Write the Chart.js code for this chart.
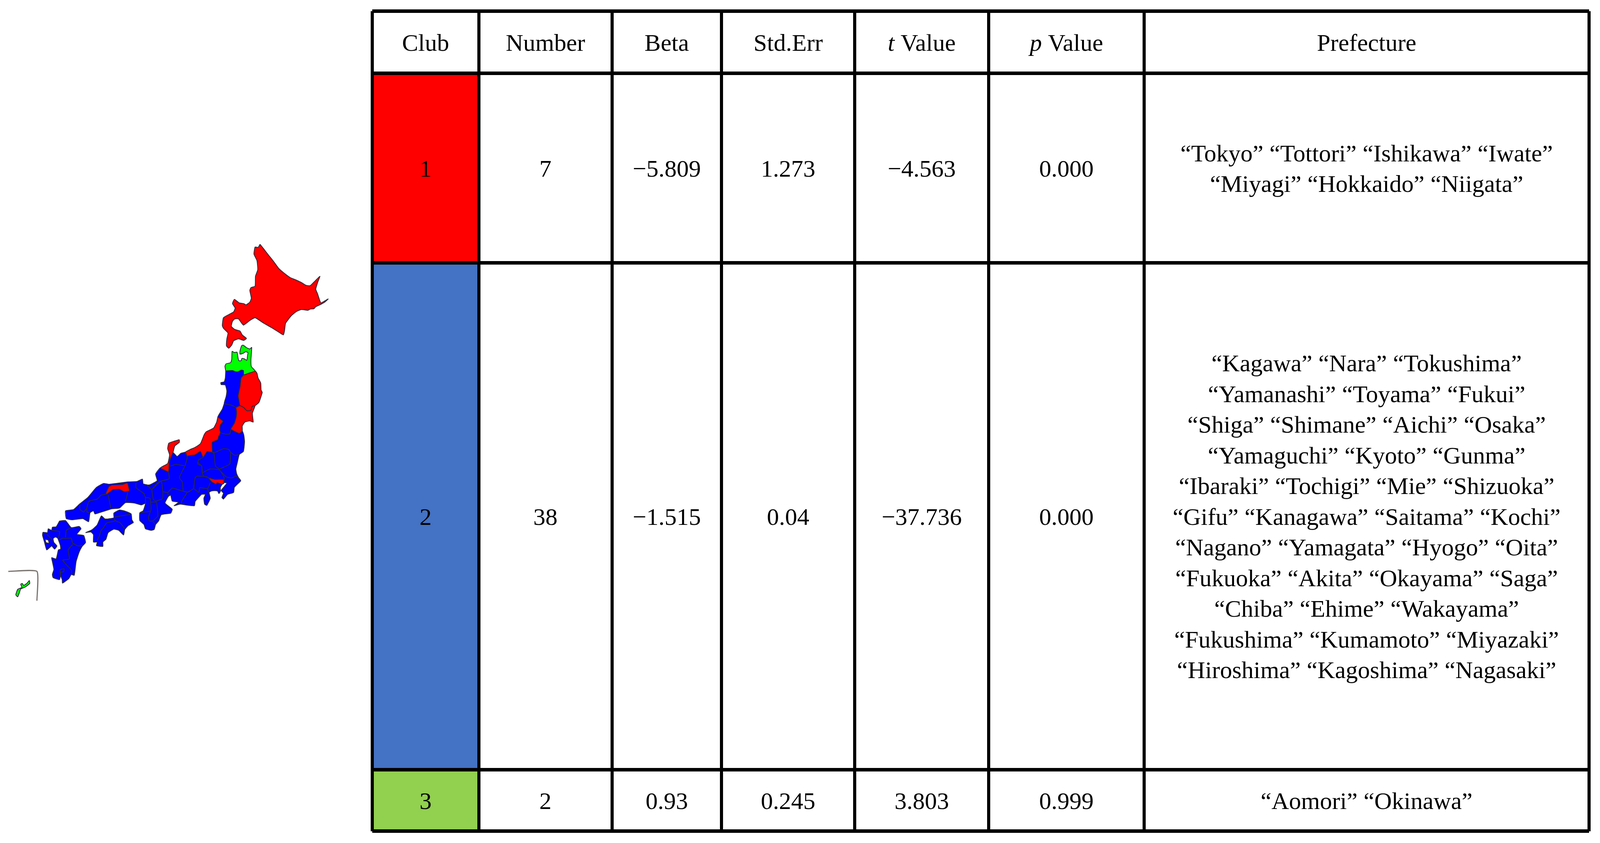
<!DOCTYPE html>
<html>
<head>
<meta charset="utf-8">
<title>Club table and map</title>
<script src="https://cdn.jsdelivr.net/npm/chart.js@4"></script>
<style>
html, body { margin: 0; padding: 0; background: #fff; overflow: hidden; }
canvas { position: absolute; top: 0; }
#mapChart { left: 0; filter: blur(0.6px); }
</style>
</head>
<body>
<canvas id="mapChart"></canvas>
<canvas id="tableChart"></canvas>
<script>
// --- Table values ---
const headers = ['Club', 'Number', 'Beta', 'Std.Err', 't Value', 'p Value', 'Prefecture'];
const clubs = ['1', '2', '3'];
const numbers = ['7', '38', '2'];
const betas = ['−5.809', '−1.515', '0.93'];
const stdErrs = ['1.273', '0.04', '0.245'];
const tValues = ['−4.563', '−37.736', '3.803'];
const pValues = ['0.000', '0.000', '0.999'];
const prefectures1 = ['“Tokyo” “Tottori” “Ishikawa” “Iwate”', '“Miyagi” “Hokkaido” “Niigata”'];
const prefectures2 = [
    '“Kagawa” “Nara” “Tokushima”',
    '“Yamanashi” “Toyama” “Fukui”',
    '“Shiga” “Shimane” “Aichi” “Osaka”',
    '“Yamaguchi” “Kyoto” “Gunma”',
    '“Ibaraki” “Tochigi” “Mie” “Shizuoka”',
    '“Gifu” “Kanagawa” “Saitama” “Kochi”',
    '“Nagano” “Yamagata” “Hyogo” “Oita”',
    '“Fukuoka” “Akita” “Okayama” “Saga”',
    '“Chiba” “Ehime” “Wakayama”',
    '“Fukushima” “Kumamoto” “Miyazaki”',
    '“Hiroshima” “Kagoshima” “Nagasaki”'
];
const prefectures3 = ['“Aomori” “Okinawa”'];

// --- Map outlines ---
const hokkaido = [[690,625],[700,637],[713,653],[727,670],[740,687],[753,698],[770,710],[787,717],[800,723],[812,730],[823,731],[833,722],[849,707],[843,723],[838,740],[843,752],[848,767],[852,775],[862,770],[871,765],[862,773],[853,778],[838,785],[833,790],[823,791],[817,794],[800,792],[787,797],[773,808],[758,827],[755,847],[752,857],[740,850],[720,838],[700,827],[677,813],[663,820],[646,832],[633,816],[623,816],[617,822],[614,835],[623,843],[637,847],[643,857],[654,866],[647,871],[633,867],[620,872],[615,883],[607,891],[601,885],[602,867],[605,852],[593,840],[590,833],[593,813],[607,805],[620,798],[624,788],[617,777],[622,766],[635,775],[647,777],[653,780],[663,773],[667,763],[663,743],[666,736],[677,732],[678,707],[684,690],[682,667],[674,650],[677,632],[685,633]];
const aomori = [[599,949],[597,937],[600,931],[612,928],[615,920],[616,899],[622,902],[629,901],[632,917],[634,923],[640,923],[642,917],[648,918],[655,922],[657,910],[658,902],[652,900],[645,904],[637,906],[637,898],[641,885],[645,883],[655,890],[663,893],[668,889],[666,920],[667,938],[677,949],[660,955],[647,959],[646,948],[640,947],[632,951],[625,951],[617,948]];
const iwate = [[647,959],[677,949],[682,955],[685,967],[692,980],[693,998],[696,1004],[692,1017],[687,1030],[677,1038],[669,1040],[666,1050],[655,1051],[647,1043],[637,1038],[634,1023],[632,1013],[637,990],[640,967]];
const akita = [[599,949],[617,948],[625,951],[632,951],[640,947],[646,948],[647,959],[640,967],[637,990],[632,1013],[634,1023],[637,1038],[626,1043],[615,1037],[595,1033],[600,1015],[602,1000],[598,985],[587,984],[586,979],[595,977],[598,967]];
const miyagi = [[626,1043],[637,1038],[647,1043],[655,1051],[666,1050],[669,1040],[677,1038],[670,1057],[671,1070],[672,1080],[663,1077],[650,1080],[643,1090],[643,1103],[635,1109],[613,1098],[622,1083],[627,1067],[628,1053]];
const yamagata = [[595,1033],[615,1037],[626,1043],[628,1053],[627,1067],[622,1083],[613,1098],[610,1110],[600,1111],[585,1107],[583,1098],[585,1087],[592,1078],[578,1067],[590,1047]];
const niigata = [[578,1067],[592,1078],[585,1087],[583,1098],[585,1107],[580,1117],[578,1125],[563,1132],[563,1157],[550,1155],[539,1170],[532,1155],[517,1164],[505,1165],[496,1167],[492,1157],[505,1150],[517,1145],[532,1135],[542,1112],[547,1105],[567,1095],[575,1080]];
const ishikawa = [[476,1125],[462,1129],[448,1134],[445,1148],[450,1164],[445,1186],[426,1197],[447,1207],[449,1183],[452,1173],[459,1158],[464,1141],[476,1132]];
const tottori = [[289,1245],[298,1241],[325,1240],[338,1236],[343,1256],[329,1258],[317,1252],[300,1253],[283,1265],[281,1262]];
const tokyo = [[553,1222],[570,1227],[593,1227],[594,1237],[589,1239],[576,1235],[574,1239],[562,1233]];
const honshuRest = [[585,1107],[600,1111],[610,1110],[613,1098],[635,1109],[643,1103],[647,1113],[649,1130],[646,1155],[635,1163],[630,1183],[626,1200],[628,1212],[633,1222],[639,1230],[622,1247],[620,1260],[604,1265],[593,1277],[589,1273],[593,1262],[587,1255],[595,1245],[602,1236],[593,1235],[585,1247],[585,1257],[581,1263],[577,1256],[562,1256],[555,1260],[558,1275],[549,1293],[543,1290],[541,1275],[545,1265],[535,1265],[518,1283],[516,1294],[493,1292],[478,1290],[462,1294],[474,1285],[457,1282],[453,1267],[447,1270],[438,1287],[457,1303],[453,1313],[428,1317],[421,1333],[413,1342],[409,1355],[401,1357],[386,1353],[382,1342],[371,1332],[371,1312],[380,1307],[386,1288],[375,1292],[356,1287],[333,1286],[317,1300],[296,1302],[260,1313],[252,1315],[248,1307],[239,1312],[235,1335],[220,1327],[191,1330],[176,1327],[174,1307],[195,1304],[212,1289],[233,1273],[256,1247],[275,1237],[289,1239],[340,1233],[363,1232],[378,1226],[380,1238],[396,1241],[417,1230],[413,1213],[426,1197],[447,1207],[449,1183],[459,1158],[470,1168],[480,1160],[493,1157],[517,1164],[532,1155],[539,1170],[550,1155],[563,1157],[563,1132],[578,1125],[580,1117]];
const shikoku = [[227,1363],[245,1355],[258,1343],[269,1320],[279,1328],[302,1325],[302,1313],[317,1305],[329,1307],[348,1315],[350,1330],[354,1337],[340,1345],[331,1355],[328,1369],[315,1357],[302,1354],[287,1363],[281,1380],[273,1387],[273,1398],[256,1396],[258,1387],[248,1387],[248,1368],[241,1361]];
const kyushu = [[158,1333],[174,1332],[189,1350],[210,1347],[215,1353],[204,1367],[222,1370],[227,1388],[218,1398],[210,1413],[202,1437],[197,1472],[189,1470],[183,1480],[166,1492],[165,1483],[160,1470],[160,1458],[170,1455],[169,1463],[162,1464],[158,1483],[141,1478],[139,1470],[143,1457],[139,1437],[137,1427],[149,1430],[155,1407],[161,1405],[160,1395],[153,1377],[147,1374],[141,1378],[143,1388],[151,1397],[145,1405],[137,1397],[124,1407],[118,1387],[113,1370],[114,1362],[126,1363],[128,1353],[137,1357],[139,1349],[149,1348]];
const omuraBay = [[120,1380],[128,1382],[130,1390],[122,1388]];
const okinawa = [[78,1485],[79,1493],[67,1502],[55,1507],[52,1515],[47,1527],[42,1522],[47,1508],[58,1503],[55,1495],[59,1493],[63,1498],[72,1492]];
const insetFrame = [[22,1462],[98,1462],[98,1537]];
const borderLines = [
    [[281,1265],[268,1267],[258,1277],[237,1282],[231,1297],[231,1310],[239,1313]],
    [[212,1290],[212,1303],[222,1310],[231,1300]],
    [[287,1267],[294,1300]],
    [[340,1257],[333,1283]],
    [[361,1235],[361,1248],[382,1263],[386,1273],[386,1287]],
    [[386,1273],[398,1275],[400,1307],[371,1312]],
    [[403,1253],[407,1278],[415,1283]],
    [[400,1285],[415,1285],[417,1297],[419,1320],[405,1333],[396,1333],[394,1323],[400,1307]],
    [[405,1333],[413,1343]],
    [[403,1253],[428,1232],[432,1275],[415,1282]],
    [[388,1240],[403,1252],[417,1237],[426,1231]],
    [[426,1231],[449,1225],[447,1207]],
    [[432,1258],[445,1260],[457,1249],[486,1257]],
    [[445,1260],[447,1268]],
    [[486,1257],[484,1233],[476,1222],[491,1192]],
    [[451,1193],[467,1188],[489,1192]],
    [[491,1192],[497,1170],[493,1158]],
    [[497,1260],[482,1283],[482,1290]],
    [[486,1257],[499,1259],[514,1250]],
    [[514,1250],[528,1260],[530,1248],[551,1250],[558,1235]],
    [[551,1250],[555,1265]],
    [[514,1250],[518,1222],[524,1218],[551,1220]],
    [[524,1183],[535,1192],[537,1212]],
    [[563,1157],[570,1158],[593,1148],[607,1150],[612,1157],[623,1165],[635,1163]],
    [[563,1157],[568,1160],[570,1180],[572,1193],[582,1200]],
    [[612,1157],[610,1187],[583,1200]],
    [[540,1170],[527,1177],[525,1188],[535,1192],[537,1210]],
    [[537,1210],[557,1200],[582,1202],[590,1213],[595,1223],[594,1237]],
    [[587,1207],[600,1220],[615,1223],[627,1218],[637,1228]],
    [[537,1210],[540,1218],[553,1222]],
    [[302,1325],[306,1332],[319,1338],[331,1353]],
    [[304,1323],[346,1316]],
    [[306,1333],[283,1338],[275,1350],[268,1358],[264,1370],[258,1383]],
    [[137,1357],[158,1360],[155,1377]],
    [[189,1350],[176,1357],[174,1375]],
    [[157,1382],[166,1377],[174,1378],[181,1377]],
    [[181,1377],[189,1377],[193,1390],[208,1397],[220,1395]],
    [[193,1393],[181,1407],[184,1430],[166,1433]],
    [[166,1433],[174,1443],[189,1458],[191,1470]],
    [[124,1367],[141,1383]]
];

// --- Layout and colours, kept apart from the values ---
// The reference is 4248 wide, the window can be narrower: fit x to the window
const FRAME_W = 4248;
const FRAME_H = 2157;
const MAP_W = 960;
const fitX = window.innerWidth / FRAME_W;
const TEXT_FONT = '"Liberation Serif"';
const TEXT_SIZE = 62;
const LINE_STEP = 78.5;
const BASELINE_SHIFT = 22;
const colEdges = [0, 283, 636.5, 927.5, 1281, 1637, 2049.5, 3231];
const rowEdges = [0, 159, 643.5, 1940.5, 2098];
const RED = '#ff0000';
const BLUE = '#0000ff';
const GREEN = '#00ff00';
const EDGE = '#2b2b3c';
const clubColors = [RED, '#4472c4', '#92d050'];

const mapCanvas = document.getElementById('mapChart');
mapCanvas.width = Math.round(MAP_W * fitX);
mapCanvas.height = FRAME_H;
const tableCanvas = document.getElementById('tableChart');
tableCanvas.style.left = mapCanvas.width + 'px';
tableCanvas.width = window.innerWidth - mapCanvas.width;
tableCanvas.height = FRAME_H;

// Fills a dataset's own points as a closed polygon just before its line is stroked
const polygonFill = {
    id: 'polygonFill',
    beforeDatasetDraw(chart, args) {
        const ds = chart.data.datasets[args.index];
        if (!ds.polygonColor) return;
        const pts = args.meta.data;
        const ctx = chart.ctx;
        ctx.save();
        ctx.beginPath();
        pts.forEach((p, i) => i ? ctx.lineTo(p.x, p.y) : ctx.moveTo(p.x, p.y));
        ctx.closePath();
        ctx.fillStyle = ds.polygonColor;
        ctx.fill();
        ctx.restore();
    }
};

function toPoints(list) {
    return list.map(p => ({ x: p[0], y: p[1] }));
}

function region(list, color) {
    const pts = toPoints(list);
    pts.push(pts[0]);
    return { data: pts, polygonColor: color, borderColor: EDGE, borderWidth: 2 };
}

function hiddenAxis(max) {
    return { type: 'linear', display: false, min: 0, max: max };
}

// --- Map chart ---
// Paint order is bottom to top, Chart.js draws the first dataset last
const mapSets = [
    region(honshuRest, BLUE),
    region(shikoku, BLUE),
    region(kyushu, BLUE),
    region(akita, BLUE),
    region(yamagata, BLUE),
    region(hokkaido, RED),
    region(iwate, RED),
    region(miyagi, RED),
    region(niigata, RED),
    region(ishikawa, RED),
    region(tottori, RED),
    region(tokyo, RED),
    region(aomori, GREEN),
    region(okinawa, GREEN),
    region(omuraBay, '#ffffff')
];
borderLines.forEach(line => mapSets.push({ data: toPoints(line), borderColor: EDGE, borderWidth: 2 }));
mapSets.push({ data: toPoints(insetFrame), borderColor: '#7a7470', borderWidth: 3 });

new Chart(mapCanvas, {
    type: 'scatter',
    data: { datasets: mapSets.reverse() },
    plugins: [polygonFill],
    options: {
        responsive: false,
        devicePixelRatio: 1,
        animation: false,
        showLine: true,
        elements: { point: { radius: 0 }, line: { tension: 0.15, borderJoinStyle: 'round' } },
        plugins: { legend: { display: false }, tooltip: { enabled: false } },
        scales: {
            x: hiddenAxis(MAP_W),
            y: Object.assign(hiddenAxis(FRAME_H), { reverse: true })
        }
    }
});

// --- Table chart ---
function setFont(ctx, style) {
    ctx.font = style + TEXT_SIZE + 'px ' + TEXT_FONT;
}

function drawCell(ctx, text, x, y) {
    const italicHead = text === 't Value' || text === 'p Value';
    ctx.textBaseline = 'alphabetic';
    if (!italicHead) {
        setFont(ctx, '');
        ctx.textAlign = 'center';
        ctx.fillText(text, x, y);
        return;
    }
    // t and p are set in italics, the rest of the header is upright
    const head = text.charAt(0);
    const tail = text.slice(1);
    setFont(ctx, 'italic ');
    const headW = ctx.measureText(head).width;
    setFont(ctx, '');
    const tailW = ctx.measureText(tail).width;
    const left = x - (headW + tailW) / 2;
    ctx.textAlign = 'left';
    setFont(ctx, 'italic ');
    ctx.fillText(head, left, y);
    setFont(ctx, '');
    ctx.fillText(tail, left + headW, y);
}

const tableText = {
    id: 'tableText',
    afterDraw(chart) {
        const { ctx, scales: { x, y } } = chart;
        const colX = i => x.getPixelForValue((colEdges[i] + colEdges[i + 1]) / 2);
        const rowY = i => y.getPixelForValue((rowEdges[i] + rowEdges[i + 1]) / 2) + BASELINE_SHIFT;
        const prefectures = [prefectures1, prefectures2, prefectures3];
        ctx.save();
        ctx.fillStyle = '#000';
        headers.forEach((h, i) => drawCell(ctx, h, colX(i), rowY(0)));
        clubs.forEach((club, r) => {
            [club, numbers[r], betas[r], stdErrs[r], tValues[r], pValues[r]].forEach((v, c) => {
                drawCell(ctx, v, colX(c), rowY(r + 1));
            });
            const lines = prefectures[r];
            lines.forEach((line, l) => {
                drawCell(ctx, line, colX(6), rowY(r + 1) + (l - (lines.length - 1) / 2) * LINE_STEP);
            });
        });
        ctx.restore();
    }
};

function tableAxis(edges, lineWidth, extra) {
    return Object.assign({
        type: 'linear',
        min: 0,
        max: edges[edges.length - 1],
        afterBuildTicks: scale => { scale.ticks = edges.map(v => ({ value: v })); },
        ticks: { display: false, autoSkip: false },
        grid: { color: '#000', lineWidth: lineWidth, drawTicks: false, z: 1 },
        border: { display: false }
    }, extra);
}

const cellSets = clubs.map((club, r) => ({
    data: [
        { x: colEdges[0], y: rowEdges[r + 1] },
        { x: colEdges[1], y: rowEdges[r + 1] },
        { x: colEdges[1], y: rowEdges[r + 2] },
        { x: colEdges[0], y: rowEdges[r + 2] }
    ],
    polygonColor: clubColors[r],
    borderWidth: 0
}));

new Chart(tableCanvas, {
    type: 'scatter',
    data: { datasets: cellSets },
    plugins: [polygonFill, tableText],
    options: {
        responsive: false,
        devicePixelRatio: 1,
        animation: false,
        showLine: true,
        elements: { point: { radius: 0 } },
        layout: { padding: { left: 28 * fitX, right: 29 * fitX, top: 28.5, bottom: 30.5 } },
        plugins: { legend: { display: false }, tooltip: { enabled: false } },
        scales: {
            x: tableAxis(colEdges, 8),
            y: tableAxis(rowEdges, 9, { reverse: true })
        }
    }
});
</script>
</body>
</html>
